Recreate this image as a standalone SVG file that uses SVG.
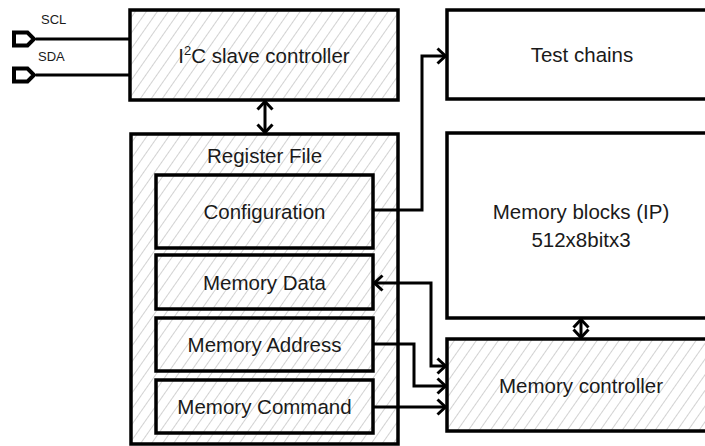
<svg xmlns="http://www.w3.org/2000/svg" width="705" height="446" viewBox="0 0 705 446">
  <defs>
    <pattern id="hatch" patternUnits="userSpaceOnUse" width="9" height="9" patternTransform="rotate(35)">
      <rect width="9" height="9" fill="#ffffff"/>
      <line x1="0" y1="0" x2="0" y2="9" stroke="#b4b4b4" stroke-width="1.2"/>
    </pattern>
    <marker id="chev" markerUnits="userSpaceOnUse" viewBox="0 0 12 18" refX="10.5" refY="9" markerWidth="12" markerHeight="18" orient="auto-start-reverse">
      <path d="M2,1.5 L10,9 L2,16.5" fill="none" stroke="#000" stroke-width="3" stroke-linejoin="miter"/>
    </marker>
  </defs>
  <style>
    .box { stroke: #000; stroke-width: 3.5; }
    .hatched { fill: url(#hatch); }
    .plain { fill: #ffffff; }
    .lbl { font-family: "Liberation Sans", Arial, sans-serif; font-size: 20.5px; fill: #1a1a1a; text-anchor: middle; }
    .small { font-family: "Liberation Sans", Arial, sans-serif; font-size: 13px; fill: #1a1a1a; }
    .wire { fill: none; stroke: #000; stroke-width: 3; }
    .port { fill: #ffffff; stroke: #000; stroke-width: 4; stroke-linejoin: miter; }
  </style>

  <g id="port-scl">
    <polygon class="port" points="14,32.5 27.5,32.5 34,39 27.5,45.5 14,45.5"/>
    <text class="small" x="41" y="24">SCL</text>
  </g>
  <g id="port-sda">
    <polygon class="port" points="14,68.5 27.5,68.5 34,75 27.5,81.5 14,81.5"/>
    <text class="small" x="38" y="61">SDA</text>
  </g>

  <g id="i2c-slave">
    <rect class="box hatched" x="130" y="10" width="268" height="90"/>
    <text class="lbl" x="264" y="63">I<tspan dy="-8" font-size="13">2</tspan><tspan dy="8">C slave controller</tspan></text>
  </g>

  <g id="test-chains">
    <rect class="box plain" x="447" y="10" width="270" height="89"/>
    <text class="lbl" x="582" y="62">Test chains</text>
  </g>

  <g id="register-file">
    <rect class="box hatched" x="131" y="134" width="267" height="310"/>
    <text class="lbl" x="264.5" y="163">Register File</text>
  </g>

  <g id="configuration">
    <rect class="box hatched" x="156" y="175" width="217" height="73"/>
    <text class="lbl" x="264.5" y="219">Configuration</text>
  </g>

  <g id="memory-data">
    <rect class="box hatched" x="156" y="255" width="217" height="54"/>
    <text class="lbl" x="264.5" y="290">Memory Data</text>
  </g>

  <g id="memory-address">
    <rect class="box hatched" x="156" y="318" width="217" height="53"/>
    <text class="lbl" x="264.5" y="352">Memory Address</text>
  </g>

  <g id="memory-command">
    <rect class="box hatched" x="156" y="380" width="217" height="53"/>
    <text class="lbl" x="264.5" y="414">Memory Command</text>
  </g>

  <g id="memory-blocks">
    <rect class="box plain" x="447" y="133" width="270" height="185"/>
    <text class="lbl" x="581" y="219">Memory blocks (IP)</text>
    <text class="lbl" x="581" y="247">512x8bitx3</text>
  </g>

  <g id="memory-controller">
    <rect class="box hatched" x="447" y="339" width="270" height="92"/>
    <text class="lbl" x="581" y="393">Memory controller</text>
  </g>

  <g id="connectors">
    <path class="wire" d="M36,39 H130"/>
    <path class="wire" d="M36,75 H130"/>
    <path class="wire" d="M265,101 V133" marker-start="url(#chev)" marker-end="url(#chev)"/>
    <path class="wire" d="M373,210 H422 V56 H446" marker-end="url(#chev)"/>
    <path class="wire" d="M446,366 H431 V283 H374" marker-start="url(#chev)" marker-end="url(#chev)"/>
    <path class="wire" d="M373,344 H414 V386 H446" marker-end="url(#chev)"/>
    <path class="wire" d="M373,407 H446" marker-end="url(#chev)"/>
    <path class="wire" d="M581,319 V338" marker-start="url(#chev)" marker-end="url(#chev)"/>
  </g>
</svg>
